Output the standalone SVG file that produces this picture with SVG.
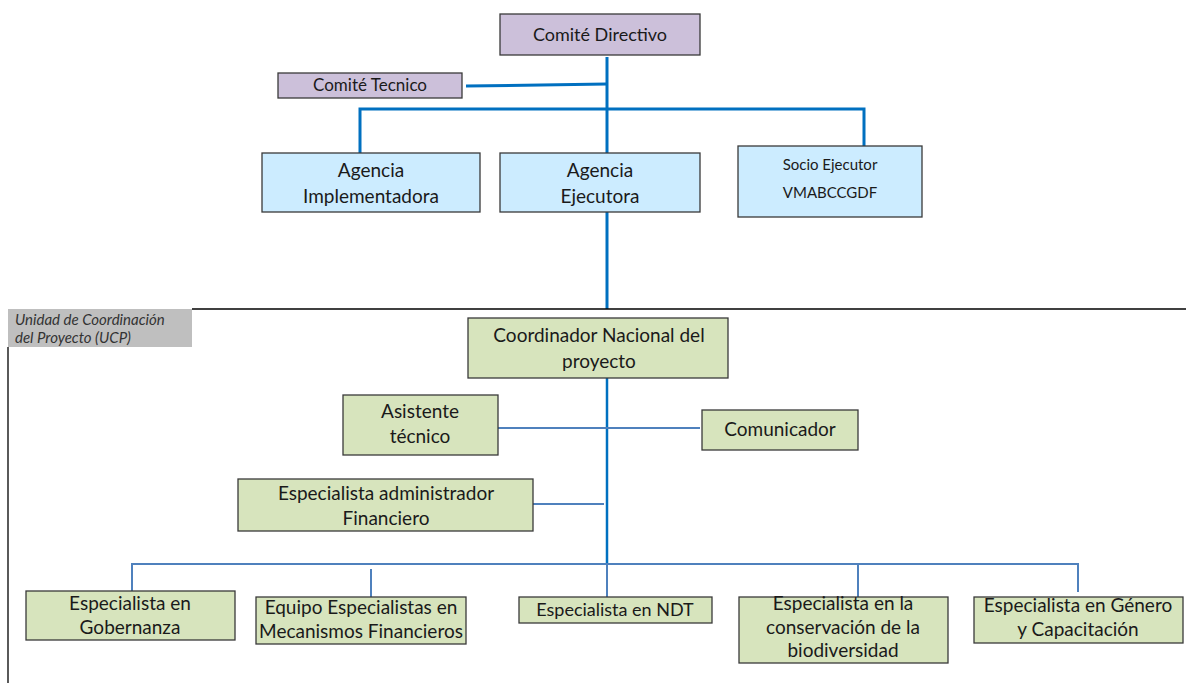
<svg xmlns="http://www.w3.org/2000/svg" width="1186" height="683" viewBox="0 0 1186 683">
<style>
.box{stroke:#3a3a3a;stroke-width:1.3}
.p{fill:#CCC0DA}
.b{fill:#CCECFF}
.g{fill:#D7E4BD}
text{font-family:Lato,"Liberation Sans",sans-serif;fill:#1a1a1a;text-anchor:middle}
.t19{font-size:19px}
.t18{font-size:18px}
.t17{font-size:17px}
.t15{font-size:15px}
.thick{stroke:#0070C0;stroke-width:3;fill:none}
.thin{stroke:#4F81BD;stroke-width:2;fill:none}
.mid{stroke:#0070C0;stroke-width:2.5;fill:none}
</style>
<rect width="1186" height="683" fill="#fff"/>
<g id="connectors">
<line class="thick" x1="607" y1="57" x2="607" y2="153"/>
<line class="thick" x1="466" y1="86" x2="607" y2="84"/>
<polyline class="thick" points="360,153 360,109 864,109 864,146"/>
<line class="thick" x1="607" y1="212" x2="607" y2="309"/>
<line class="mid" x1="607" y1="378" x2="607" y2="565"/>
<line class="thin" x1="498" y1="428" x2="700" y2="428"/>
<line class="thin" x1="533" y1="504" x2="604" y2="504"/>
<polyline class="thin" points="132,591 132,564 1078,564 1078,592"/>
<line class="thin" x1="371" y1="569" x2="371" y2="597"/>
<line class="thin" x1="607" y1="564" x2="607" y2="597"/>
<line class="thin" x1="858" y1="564" x2="858" y2="597"/>
<line stroke="#000" stroke-width="1.3" x1="192" y1="309" x2="1186" y2="309"/>
<line stroke="#000" stroke-width="1.3" x1="8" y1="347" x2="8" y2="683"/>
</g>
<g id="ucp">
<rect x="8" y="309" width="184" height="38" fill="#BFBFBF"/>
<text x="15" y="325" style="text-anchor:start;font-size:15px;font-style:italic;fill:#333">Unidad de Coordinación</text>
<text x="15" y="343" style="text-anchor:start;font-size:15px;font-style:italic;fill:#333">del Proyecto (UCP)</text>
</g>
<g id="comite-directivo"><rect class="box p" x="500" y="14" width="200" height="41"/><text class="t18" x="600" y="41">Comité Directivo</text></g>
<g id="comite-tecnico"><rect class="box p" x="278" y="73" width="184" height="25"/><text class="t17" x="370" y="91">Comité Tecnico</text></g>
<g id="agencia-implementadora"><rect class="box b" x="262" y="153" width="218" height="59"/><text class="t19" x="371" y="177">Agencia</text><text class="t19" x="371" y="203">Implementadora</text></g>
<g id="agencia-ejecutora"><rect class="box b" x="500" y="153" width="200" height="59"/><text class="t19" x="600" y="177">Agencia</text><text class="t19" x="600" y="203">Ejecutora</text></g>
<g id="socio-ejecutor"><rect class="box b" x="738" y="146" width="184" height="71"/><text class="t15" x="830" y="170">Socio Ejecutor</text><text class="t15" x="830" y="198">VMABCCGDF</text></g>
<g id="coordinador"><rect class="box g" x="468" y="318" width="260" height="60"/><text class="t19" x="599" y="342">Coordinador Nacional del</text><text class="t19" x="599" y="368">proyecto</text></g>
<g id="asistente"><rect class="box g" x="343" y="395" width="155" height="60"/><text class="t19" x="420" y="418">Asistente</text><text class="t19" x="420" y="443">técnico</text></g>
<g id="comunicador"><rect class="box g" x="702" y="410" width="156" height="40"/><text class="t19" x="780" y="436">Comunicador</text></g>
<g id="administrador"><rect class="box g" x="238" y="479" width="295" height="52"/><text class="t19" x="386" y="500">Especialista  administrador</text><text class="t19" x="386" y="525">Financiero</text></g>
<g id="gobernanza"><rect class="box g" x="26" y="591" width="209" height="49"/><text class="t19" x="130" y="610">Especialista en</text><text class="t19" x="130" y="634">Gobernanza</text></g>
<g id="mecanismos"><rect class="box g" x="256" y="597" width="210" height="47"/><text class="t19" x="361" y="614">Equipo Especialistas en</text><text class="t19" x="361" y="638">Mecanismos Financieros</text></g>
<g id="ndt"><rect class="box g" x="519" y="597" width="193" height="26"/><text class="t18" x="615" y="616">Especialista en NDT</text></g>
<g id="biodiversidad"><rect class="box g" x="739" y="597" width="209" height="66"/><text class="t19" x="843" y="610">Especialista en la</text><text class="t19" x="843" y="634">conservación de la</text><text class="t19" x="843" y="657">biodiversidad</text></g>
<g id="genero"><rect class="box g" x="974" y="597" width="209" height="46"/><text class="t19" x="1078" y="612">Especialista en Género</text><text class="t19" x="1078" y="636">y  Capacitación</text></g>
</svg>
